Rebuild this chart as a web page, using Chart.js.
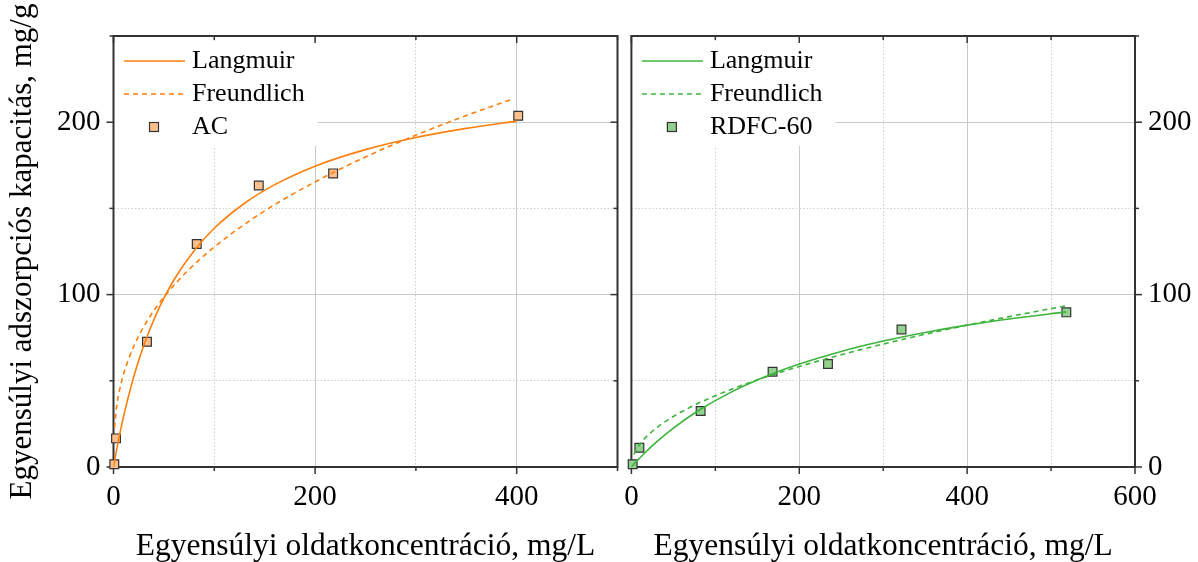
<!DOCTYPE html>
<html><head><meta charset="utf-8">
<script src="https://cdn.jsdelivr.net/npm/chart.js@4/dist/chart.umd.min.js"></script>
<style>
html,body{margin:0;padding:0;background:#fff;width:1198px;height:562px;overflow:hidden}
#l{position:absolute;left:0;top:0}
#r{position:absolute;left:624px;top:0}
</style>
</head><body>
<canvas id="l" width="625" height="562"></canvas>
<canvas id="r" width="574" height="562"></canvas>
<script>
// ---- data ----
const acC = [0.8, 2.5, 33.2, 82.6, 144.1, 217.9, 401.5];
const acQ = [1.6, 16.6, 72.6, 129.3, 163.3, 170.3, 203.7];
const acLangC = [0, 2, 5, 10, 20, 30, 45, 60, 80, 100, 130, 160, 200, 250, 300, 350, 400];
const acLangQ = [0, 6.5, 15.7, 29.4, 52.2, 70.5, 92.0, 108.6, 125.5, 138.5, 153.0, 163.8, 174.5, 184.1, 191.1, 196.4, 200.6];
const acFreuC = [1, 3, 6, 10, 20, 35, 50, 75, 100, 140, 180, 230, 280, 340, 397];
const acFreuQ = [22.8, 34.4, 44.6, 53.9, 69.9, 86.2, 98.5, 114.6, 127.6, 144.8, 159.0, 174.3, 187.6, 201.7, 213.7];

const rdC = [1.5, 9.5, 82.5, 168.2, 234.2, 321.8, 518.2];
const rdQ = [1.6, 11.2, 32.5, 55.3, 59.7, 79.8, 89.7];
const rdLangC = [0, 5, 15, 30, 50, 80, 120, 160, 200, 250, 300, 350, 400, 450, 518];
const rdLangQ = [0, 2.67, 7.69, 14.53, 22.57, 32.76, 43.71, 52.50, 59.7, 67.05, 73.05, 78.04, 82.3, 85.86, 90.0];
const rdFreuC = [3, 5, 10, 20, 40, 70, 100, 150, 200, 260, 320, 380, 450, 518];
const rdFreuQ = [7.25, 9.34, 13.18, 18.59, 26.22, 34.62, 41.33, 50.54, 58.3, 66.42, 73.64, 80.19, 87.21, 93.53];

const xTitle = 'Egyensúlyi oldatkoncentráció, mg/L';
const yTitle = 'Egyensúlyi adszorpciós kapacitás, mg/g';
const seriesNames = ['Langmuir', 'Freundlich'];
const sampleNames = ['AC', 'RDFC-60'];

const FONT = '"Liberation Serif", "Times New Roman", serif';
const pts = (xs, ys) => xs.map((x, i) => ({x, y: ys[i]}));

function lineDs(label, xs, ys, color, dash) {
  return {label, data: pts(xs, ys), showLine: true, borderColor: color, backgroundColor: color,
    borderWidth: 1.6, borderDash: dash, pointRadius: 0, cubicInterpolationMode: 'monotone', _kind: 'line'};
}
function markDs(label, xs, ys, fill) {
  return {label, data: pts(xs, ys), showLine: false, pointStyle: 'rect', pointRadius: 6.2,
    backgroundColor: fill, borderColor: '#333', pointBorderWidth: 1.2, borderWidth: 1.2, clip: false, _kind: 'mark'};
}

function gridColor(ctx, major, max) {
  const t = ctx.tick; if (!t) return 'rgba(0,0,0,0)';
  const v = t.value;
  if (v === 0 || v === max) return 'rgba(0,0,0,0)';
  return v % major === 0 ? '#c9c9c9' : '#cfcfcf';
}
function gridDash(ctx, major) {
  const t = ctx.tick; if (!t) return [];
  return t.value % major === 0 ? [] : [1.5, 2];
}

function xScale(max) {
  return {type: 'linear', min: 0, max,
    ticks: {stepSize: 100, autoSkip: false, maxRotation: 0, padding: 0, color: '#000',
      font: {family: FONT, size: 29}, callback: v => (v % 200 === 0 ? String(v) : '')},
    grid: {drawTicks: true, tickLength: 13, tickColor: 'rgba(0,0,0,0)', lineWidth: 1, color: c => gridColor(c, 200, max)},
    border: {display: false, dash: c => gridDash(c, 200)},
    title: {display: true, text: xTitle, color: '#000', font: {family: FONT, size: 31.5, lineHeight: 1}, padding: {top: 0, bottom: 0}},
    afterFit: s => { s.height = 95; }
  };
}
function yScale(pos, width, withTitle) {
  return {type: 'linear', position: pos, min: 0, max: 250,
    ticks: {stepSize: 50, autoSkip: false, padding: 13, color: '#000',
      font: {family: FONT, size: 29}, callback: v => (v % 100 === 0 ? String(v) : '')},
    grid: {drawTicks: false, lineWidth: 1, color: c => gridColor(c, 100, 250)},
    border: {display: false, dash: c => gridDash(c, 100)},
    title: {display: withTitle, text: yTitle, color: '#000', font: {family: FONT, size: 31, lineHeight: 1}, padding: {top: 7, bottom: 0}},
    afterFit: s => { s.width = width; }
  };
}

const framePlugin = {
  id: 'frame',
  beforeDatasetsDraw(chart, args, o) {
    const {ctx, chartArea: a, scales} = chart;
    const xs = scales.x, ys = scales.y;
    ctx.save();
    // legend background
    ctx.fillStyle = '#fff';
    ctx.fillRect(a.left + 1, a.top + 6, 203, 104);
    // legend entries
    ctx.font = '26px ' + FONT;
    ctx.textBaseline = 'middle';
    ctx.textAlign = 'left';
    chart.data.datasets.forEach((d, i) => {
      const cy = a.top + 25 + i * 33;
      if (d._kind === 'line') {
        ctx.strokeStyle = d.borderColor; ctx.lineWidth = 1.6;
        ctx.setLineDash(d.borderDash || []);
        ctx.beginPath(); ctx.moveTo(a.left + 10.5, cy); ctx.lineTo(a.left + 71.5, cy); ctx.stroke();
        ctx.setLineDash([]);
      } else {
        ctx.fillStyle = d.backgroundColor; ctx.strokeStyle = '#333'; ctx.lineWidth = 1.2;
        ctx.fillRect(a.left + 36, cy - 4.5, 9, 9); ctx.strokeRect(a.left + 36, cy - 4.5, 9, 9);
      }
      ctx.fillStyle = '#000';
      ctx.fillText(d.label, a.left + 78.5, cy);
    });
    // frame
    ctx.strokeStyle = '#333'; ctx.lineWidth = 2;
    ctx.strokeRect(a.left, a.top, a.right - a.left, a.bottom - a.top);
    ctx.lineWidth = 1.5;
    const seg = (x1, y1, x2, y2) => { ctx.beginPath(); ctx.moveTo(x1, y1); ctx.lineTo(x2, y2); ctx.stroke(); };
    xs.ticks.forEach(t => {
      const p = xs.getPixelForValue(t.value); const L = t.value % 200 === 0 ? 7 : 4;
      seg(p, a.bottom, p, a.bottom + L);
      seg(p, a.top, p, a.top + L);
    });
    ys.ticks.forEach(t => {
      const p = ys.getPixelForValue(t.value); const L = t.value % 100 === 0 ? 7 : 4;
      if (o.side === 'left') { seg(a.left, p, a.left - L, p); seg(a.right, p, a.right - L, p); }
      else { seg(a.right, p, a.right + L, p); }
    });
    ctx.restore();
  }
};

Chart.defaults.font.family = FONT;

new Chart(document.getElementById('l'), {
  type: 'scatter',
  data: {datasets: [
    lineDs(seriesNames[0], acLangC, acLangQ, '#ff7f0e', []),
    lineDs(seriesNames[1], acFreuC, acFreuQ, '#ff7f0e', [5, 4]),
    markDs(sampleNames[0], acC, acQ, '#fdbf8b')
  ]},
  options: {responsive: false, animation: false, events: [],
    layout: {padding: {top: 36, right: 7.5, left: 0, bottom: 0}},
    plugins: {legend: {display: false}, tooltip: {enabled: false}, frame: {side: 'left'}},
    scales: {x: xScale(500), y: yScale('left', 113.5, true)}
  },
  plugins: [framePlugin]
});

new Chart(document.getElementById('r'), {
  type: 'scatter',
  data: {datasets: [
    lineDs(seriesNames[0], rdLangC, rdLangQ, '#3cb43c', []),
    lineDs(seriesNames[1], rdFreuC, rdFreuQ, '#3cb43c', [5, 4]),
    markDs(sampleNames[1], rdC, rdQ, '#93d28e')
  ]},
  options: {responsive: false, animation: false, events: [],
    layout: {padding: {top: 36, right: 0, left: 7, bottom: 0}},
    plugins: {legend: {display: false}, tooltip: {enabled: false}, frame: {side: 'right'}},
    scales: {x: xScale(600), y: yScale('right', 63, false)}
  },
  plugins: [framePlugin]
});
</script>
</body></html>
